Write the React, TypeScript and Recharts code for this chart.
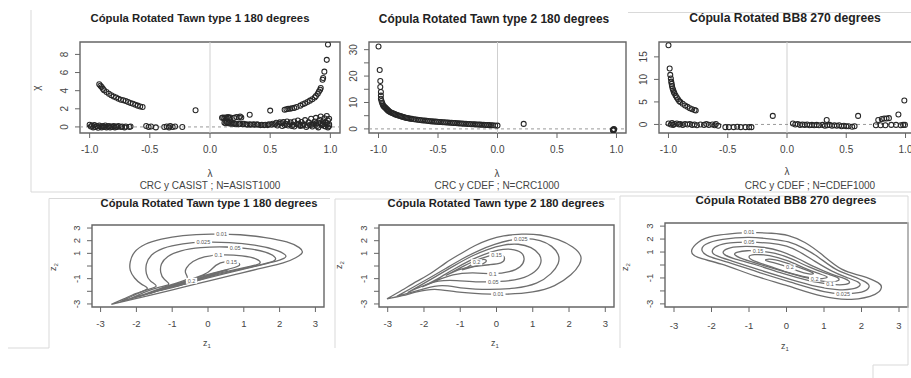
import React from "react";
import {
  ScatterChart,
  Scatter,
  XAxis,
  YAxis,
  ReferenceLine,
  ReferenceArea
} from "recharts";

const FONT = "'Liberation Sans', Arial, Helvetica, sans-serif";

type Pair = [number, number];
type Lab = [number, number, string];

// ---------- top row: chi-plots ----------
const chiXTicks = [-1, -0.5, 0, 0.5, 1];
const chiXDomain: [number, number] = [-1.08, 1.08];

// panel 1: CRC y CASIST
const asistYTicks = [0, 2, 4, 6, 8];
const asistYDomain: [number, number] = [-0.67, 9.37];
const asistUpperLeft: Pair[] = [
  [-0.92, 4.7], [-0.91, 4.55], [-0.9, 4.4], [-0.89, 4.2], [-0.88, 4.05], [-0.86, 3.85],
  [-0.84, 3.65], [-0.82, 3.5], [-0.8, 3.35], [-0.78, 3.25], [-0.76, 3.1], [-0.74, 3.0],
  [-0.72, 2.95], [-0.7, 2.85], [-0.68, 2.75], [-0.66, 2.65], [-0.64, 2.55], [-0.62, 2.45],
  [-0.6, 2.35], [-0.58, 2.25], [-0.56, 2.2]
];
const asistLowLeft: Pair[] = [
  [-1.0, 0.25], [-0.99, 0.05], [-0.98, 0.15], [-0.97, -0.05], [-0.96, 0.2], [-0.95, 0.0],
  [-0.94, 0.1], [-0.93, -0.1], [-0.92, 0.15], [-0.91, 0.05], [-0.9, -0.05], [-0.89, 0.1],
  [-0.88, 0.0], [-0.87, 0.15], [-0.86, -0.05], [-0.85, 0.05], [-0.84, 0.1], [-0.83, -0.05],
  [-0.82, 0.05], [-0.81, 0.0], [-0.8, 0.1], [-0.79, -0.05], [-0.78, 0.05], [-0.77, 0.0],
  [-0.76, 0.1], [-0.74, 0.0], [-0.73, 0.05], [-0.71, -0.05], [-0.7, 0.05], [-0.67, 0.0],
  [-0.66, 0.05], [-0.53, 0.1], [-0.51, 0.0], [-0.49, 0.05], [-0.45, -0.05], [-0.38, 0.0],
  [-0.36, 0.05], [-0.34, -0.05], [-0.33, 0.1], [-0.31, 0.0], [-0.29, 0.05], [-0.23, 0.0]
];
const asistSingles: Pair[] = [[-0.12, 1.83], [0.5, 1.8], [0.33, 1.35]];
const asistMidRight: Pair[] = [
  [0.1, 1.0], [0.11, 1.05], [0.12, 0.95], [0.13, 1.05], [0.14, 1.0], [0.15, 1.1], [0.16, 1.0],
  [0.17, 1.05], [0.2, 1.0], [0.22, 1.1], [0.24, 1.05], [0.25, 1.15], [0.26, 1.05]
];
const asistLowRight: Pair[] = [
  [0.12, 0.45], [0.13, 0.4], [0.14, 0.5], [0.15, 0.4], [0.16, 0.45], [0.17, 0.35], [0.18, 0.45],
  [0.19, 0.35], [0.2, 0.4], [0.21, 0.3], [0.22, 0.35], [0.24, 0.3], [0.25, 0.35], [0.27, 0.3],
  [0.28, 0.35], [0.3, 0.3], [0.31, 0.25], [0.33, 0.3], [0.34, 0.25], [0.36, 0.3], [0.37, 0.25],
  [0.39, 0.3], [0.4, 0.25], [0.42, 0.2], [0.43, 0.25], [0.45, 0.2], [0.46, 0.25], [0.48, 0.2],
  [0.49, 0.3], [0.51, 0.25], [0.52, 0.35], [0.54, 0.3], [0.55, 0.45], [0.57, 0.35], [0.58, 0.5],
  [0.6, 0.4], [0.61, 0.55], [0.63, 0.35], [0.64, 0.6], [0.66, 0.3], [0.67, 0.5], [0.69, 0.25],
  [0.7, 0.6], [0.72, 0.3], [0.73, 0.7], [0.75, 0.2], [0.76, 0.55], [0.78, 0.3], [0.79, 0.75],
  [0.81, 0.15], [0.82, 0.5], [0.84, 0.9], [0.85, 0.25], [0.87, 0.6], [0.88, 1.0], [0.89, 0.1],
  [0.9, 0.45], [0.91, 0.8], [0.92, 1.15], [0.93, 0.2], [0.94, 0.6], [0.95, 0.95], [0.96, 0.05],
  [0.97, 0.4], [0.97, 1.2], [0.98, 0.7], [0.98, -0.05], [0.99, 0.3], [0.99, 0.9], [0.6, 0.1],
  [0.65, 0.15], [0.7, 0.05], [0.75, 0.1], [0.8, 0.0], [0.85, 0.05], [0.9, -0.05], [0.95, 0.1],
  [0.56, 0.15], [0.62, 0.2], [0.68, 0.1], [0.74, 0.35], [0.86, 0.35], [0.94, 0.3],
  [0.77, 0.15], [0.83, 0.2], [0.88, 0.25], [0.92, 0.4], [0.96, 0.5], [0.99, 0.1]
];
const asistUpperRight: Pair[] = [
  [0.62, 1.9], [0.635, 1.95], [0.65, 2.0], [0.665, 2.0], [0.68, 2.05], [0.7, 2.1], [0.72, 2.2],
  [0.75, 2.35], [0.77, 2.5], [0.79, 2.6], [0.81, 2.75], [0.83, 2.9], [0.85, 3.05], [0.87, 3.25],
  [0.88, 3.4], [0.895, 3.65], [0.905, 3.9], [0.915, 4.1], [0.92, 4.3], [0.935, 5.2], [0.94, 5.4],
  [0.95, 6.1], [0.97, 7.4], [0.98, 9.1]
];

// panel 2: CRC y CDEF (Tawn 2)
const crcYTicks = [0, 5, 10, 15, 20, 25, 30];
const crcYShown = [0, 10, 20, 30];
const crcYDomain: [number, number] = [-1.55, 32.9];
const crcSpike: Pair[] = [[-1.0, 31.2], [-0.99, 22.3], [-0.985, 18.1], [-0.985, 15.9], [-0.98, 14.0], [-0.98, 12.6]];
const crcCurve: Pair[] = [
  [-0.98, 11.4], [-0.975, 10.6], [-0.97, 9.9], [-0.965, 9.3], [-0.96, 8.8], [-0.95, 8.3],
  [-0.94, 7.9], [-0.93, 7.4], [-0.92, 7.0], [-0.91, 6.6], [-0.9, 6.3], [-0.88, 5.9],
  [-0.86, 5.5], [-0.84, 5.2], [-0.82, 4.9], [-0.8, 4.6], [-0.78, 4.35], [-0.76, 4.15],
  [-0.74, 3.95], [-0.72, 3.8], [-0.7, 3.65], [-0.67, 3.45], [-0.64, 3.3], [-0.61, 3.15],
  [-0.58, 3.0], [-0.55, 2.85], [-0.52, 2.75], [-0.49, 2.65], [-0.46, 2.55], [-0.43, 2.45],
  [-0.4, 2.35], [-0.37, 2.25], [-0.34, 2.15], [-0.31, 2.05], [-0.28, 1.95], [-0.25, 1.88],
  [-0.22, 1.8], [-0.19, 1.72], [-0.16, 1.65], [-0.13, 1.58], [-0.1, 1.5], [-0.07, 1.43],
  [-0.04, 1.36], [-0.02, 1.3], [0.0, 1.25]
];
const crcCurveDense: Pair[] = [
  [-0.955, 8.6], [-0.945, 8.1], [-0.935, 7.6], [-0.925, 7.2], [-0.915, 6.8], [-0.89, 6.1],
  [-0.87, 5.7], [-0.85, 5.35], [-0.83, 5.05], [-0.81, 4.75], [-0.79, 4.5], [-0.77, 4.25],
  [-0.75, 4.05], [-0.73, 3.88], [-0.685, 3.55], [-0.655, 3.38], [-0.625, 3.22], [-0.595, 3.08],
  [-0.565, 2.92], [-0.535, 2.8], [-0.505, 2.7], [-0.475, 2.6], [-0.445, 2.5], [-0.415, 2.4],
  [-0.385, 2.3], [-0.355, 2.2], [-0.325, 2.1], [-0.295, 2.0], [-0.265, 1.92], [-0.235, 1.84],
  [-0.205, 1.76], [-0.175, 1.68], [-0.145, 1.62], [-0.115, 1.54], [-0.085, 1.47], [-0.055, 1.4]
];
const crcRight: Pair[] = [[0.22, 1.9], [0.97, -0.3], [0.975, -0.5], [0.98, -0.2], [0.972, -0.6], [0.978, 0.0]];

// panel 3: CRC y CDEF (BB8)
const cdefYTicks = [0, 5, 10, 15];
const cdefYDomain: [number, number] = [-1.9, 18.3];
const cdefUpperLeft: Pair[] = [
  [-1.0, 17.6], [-0.99, 12.4], [-0.985, 11.0], [-0.98, 10.2], [-0.977, 9.5], [-0.973, 9.0],
  [-0.97, 8.5], [-0.965, 8.0], [-0.96, 7.6], [-0.955, 7.2], [-0.95, 6.9], [-0.94, 6.4],
  [-0.93, 6.0], [-0.92, 5.6], [-0.91, 5.2], [-0.9, 5.0], [-0.88, 4.6], [-0.86, 4.2],
  [-0.84, 3.9], [-0.82, 3.6], [-0.8, 3.35], [-0.78, 3.2], [-0.77, 3.1]
];
const cdefLowLeft: Pair[] = [
  [-1.0, 0.2], [-0.98, 0.0], [-0.97, 0.3], [-0.96, -0.1], [-0.95, 0.1], [-0.93, 0.2], [-0.91, 0.0],
  [-0.9, 0.1], [-0.88, -0.1], [-0.86, 0.1], [-0.84, 0.0], [-0.82, 0.1], [-0.8, -0.1], [-0.78, 0.0],
  [-0.76, -0.2], [-0.73, 0.0], [-0.7, -0.1], [-0.68, 0.1], [-0.66, -0.1], [-0.63, 0.0], [-0.61, -0.2],
  [-0.6, 0.1], [-0.58, -0.3], [-0.52, -0.6], [-0.49, -0.6], [-0.45, -0.6], [-0.42, -0.5],
  [-0.39, -0.6], [-0.35, -0.6], [-0.32, -0.6], [-0.3, -0.6]
];
const cdefRight: Pair[] = [
  [-0.12, 1.9], [0.05, 0.2], [0.07, 0.0], [0.09, 0.1], [0.11, -0.1], [0.13, 0.0], [0.15, -0.1],
  [0.17, 0.0], [0.19, -0.2], [0.21, -0.1], [0.23, -0.2], [0.25, -0.1], [0.27, -0.2], [0.3, -0.1],
  [0.32, -0.3], [0.34, -0.2], [0.36, -0.1], [0.38, -0.3], [0.4, -0.2], [0.42, -0.3], [0.44, -0.2],
  [0.46, -0.4], [0.48, -0.3], [0.5, -0.4], [0.52, -0.4], [0.55, -0.5], [0.57, -0.4], [0.335, 1.0],
  [0.6, 1.9], [0.75, -0.2], [0.77, 1.0], [0.79, -0.2], [0.8, 1.2], [0.82, 1.3], [0.84, 1.3],
  [0.86, 1.4], [0.83, -0.2], [0.88, -0.1], [0.94, 2.2], [0.92, -0.1], [0.96, -0.2], [0.98, -0.1],
  [0.99, 5.3], [0.995, -0.1]
];

// ---------- bottom row: contour plots ----------
const zTicks = [-3, -2, -1, 0, 1, 2, 3];
const zYShown = [-3, -1, 1, 2, 3];
const zDomain: [number, number] = [-3.24, 3.24];

// panel 4: Tawn type 1
const t1c001: Pair[] = [
  [-2.7, -3.04], [-2.35, -2.6], [-2.0, -2.17], [-1.7, -1.8], [-1.85, -1.45], [-2.05, -0.95],
  [-2.17, -0.35], [-2.17, 0.35], [-2.05, 1.1], [-1.75, 1.72], [-1.3, 2.12], [-0.7, 2.4],
  [0.1, 2.52], [0.9, 2.47], [1.6, 2.25], [2.2, 1.9], [2.55, 1.45], [2.63, 1.05], [2.45, 0.65],
  [2.1, 0.24], [1.5, -0.17], [0.8, -0.65], [0.0, -1.2], [-0.8, -1.75], [-1.6, -2.3],
  [-2.2, -2.7], [-2.7, -3.04]
];
const t1c0025: Pair[] = [
  [-2.45, -2.82], [-2.1, -2.35], [-1.75, -1.92], [-1.45, -1.6], [-1.6, -1.2], [-1.72, -0.6],
  [-1.72, 0.15], [-1.58, 0.85], [-1.25, 1.4], [-0.7, 1.75], [-0.1, 1.88], [0.6, 1.85],
  [1.3, 1.65], [1.85, 1.3], [2.15, 0.9], [2.12, 0.6], [1.8, 0.3], [1.2, -0.1], [0.5, -0.58],
  [-0.3, -1.15], [-1.1, -1.72], [-1.8, -2.3], [-2.45, -2.82]
];
const t1c005: Pair[] = [
  [-2.2, -2.62], [-1.8, -2.1], [-1.4, -1.7], [-1.1, -1.45], [-1.22, -1.05], [-1.32, -0.5],
  [-1.3, 0.15], [-1.12, 0.75], [-0.75, 1.2], [-0.2, 1.45], [0.5, 1.5], [1.1, 1.38], [1.6, 1.1],
  [1.88, 0.65], [1.75, 0.3], [1.3, 0.0], [0.7, -0.38], [0.0, -0.85], [-0.8, -1.45],
  [-1.5, -2.02], [-2.2, -2.62]
];
const t1c01: Pair[] = [
  [-1.95, -2.42], [-1.5, -1.95], [-1.0, -1.45], [-0.6, -1.05], [-0.62, -0.6], [-0.6, -0.15],
  [-0.42, 0.35], [-0.1, 0.72], [0.4, 0.88], [0.95, 0.8], [1.35, 0.55], [1.45, 0.22],
  [1.2, -0.02], [0.6, -0.38], [-0.1, -0.85], [-0.8, -1.4], [-1.4, -1.92], [-1.95, -2.42]
];
const t1c015: Pair[] = [
  [-1.65, -2.2], [-1.0, -1.55], [-0.4, -0.98], [0.0, -0.5], [0.22, 0.05], [0.5, 0.35],
  [0.8, 0.28], [0.86, 0.02], [0.5, -0.3], [-0.1, -0.75], [-0.9, -1.5], [-1.65, -2.2]
];
const t1c02: Pair[] = [
  [-1.35, -1.95], [-0.8, -1.45], [-0.2, -0.92], [0.55, -0.3], [0.0, -0.72], [-0.7, -1.45], [-1.35, -1.95]
];
const t1c025: Pair[] = [[-0.9, -1.6], [-0.4, -1.15], [0.25, -0.6], [-0.3, -1.15], [-0.9, -1.6]];
const t1Labels: Lab[] = [
  [0.38, 2.5, "0.01"], [-0.13, 1.87, "0.025"], [0.76, 1.46, "0.05"], [0.29, 0.86, "0.1"],
  [0.66, 0.33, "0.15"], [-0.46, -1.17, "0.2"]
];

// panel 5: Tawn type 2
const t2c001: Pair[] = [
  [-3.02, -2.6], [-2.6, -1.9], [-2.2, -1.22], [-1.8, -0.55], [-1.4, 0.25], [-1.0, 0.95],
  [-0.6, 1.6], [-0.2, 2.08], [0.2, 2.38], [0.7, 2.52], [1.2, 2.45], [1.7, 2.08], [2.1, 1.5],
  [2.32, 0.8], [2.28, 0.1], [2.05, -0.7], [1.6, -1.55], [1.0, -2.05], [0.3, -2.22],
  [-0.4, -2.2], [-1.1, -2.05], [-1.7, -1.85], [-2.2, -2.05], [-2.6, -2.35], [-3.02, -2.6]
];
const t2c0025: Pair[] = [
  [-2.75, -2.4], [-2.3, -1.68], [-1.85, -0.95], [-1.4, -0.2], [-0.95, 0.55], [-0.5, 1.2],
  [-0.05, 1.7], [0.4, 2.05], [0.8, 2.17], [1.2, 2.0], [1.52, 1.55], [1.7, 0.9], [1.7, 0.2],
  [1.5, -0.6], [1.1, -1.35], [0.5, -1.75], [-0.2, -1.85], [-0.9, -1.75], [-1.5, -1.55],
  [-2.0, -1.8], [-2.4, -2.12], [-2.75, -2.4]
];
const t2c005: Pair[] = [
  [-2.45, -2.1], [-2.05, -1.45], [-1.6, -0.7], [-1.15, 0.05], [-0.7, 0.75], [-0.25, 1.3],
  [0.2, 1.65], [0.6, 1.72], [0.95, 1.45], [1.18, 0.9], [1.22, 0.25], [1.05, -0.45],
  [0.65, -1.0], [0.1, -1.22], [-0.5, -1.25], [-1.1, -1.15], [-1.6, -1.2], [-2.05, -1.6], [-2.45, -2.1]
];
const t2c01: Pair[] = [
  [-2.05, -1.65], [-1.65, -1.05], [-1.2, -0.3], [-0.75, 0.4], [-0.35, 0.9], [0.05, 1.25],
  [0.4, 1.32], [0.68, 1.05], [0.76, 0.5], [0.65, -0.05], [0.35, -0.45], [-0.1, -0.6],
  [-0.65, -0.55], [-1.2, -0.7], [-1.65, -1.15], [-2.05, -1.65]
];
const t2c015: Pair[] = [
  [-1.4, -0.75], [-1.0, -0.15], [-0.6, 0.4], [-0.2, 0.8], [0.1, 0.92], [0.22, 0.6],
  [0.12, 0.25], [-0.2, 0.1], [-0.65, -0.05], [-1.05, -0.3], [-1.4, -0.75]
];
const t2c02: Pair[] = [[-0.95, -0.3], [-0.65, 0.15], [-0.4, 0.5], [-0.28, 0.42], [-0.45, 0.1], [-0.95, -0.3]];
const t2Labels: Lab[] = [
  [0.67, 2.16, "0.025"], [0.05, -2.22, "0.01"], [-0.09, -1.24, "0.05"], [-0.1, -0.6, "0.1"],
  [0.0, 0.88, "0.15"], [-0.55, 0.3, "0.2"]
];

// panel 6: BB8
const bbc001: Pair[] = [
  [-1.0, 2.52], [-0.4, 2.45], [0.05, 2.27], [0.49, 1.74], [0.93, 0.84], [1.47, -0.32],
  [2.0, -0.84], [2.44, -1.36], [2.53, -1.75], [2.36, -2.26], [1.73, -2.65], [0.93, -2.39],
  [0.04, -1.61], [-0.84, -0.84], [-1.73, 0.06], [-2.36, 0.58], [-2.53, 1.1], [-2.36, 1.74],
  [-1.91, 2.26], [-1.0, 2.52]
];
const bbc0025: Pair[] = [
  [1.51, -2.24], [1.0, -2.05], [0.2, -1.4], [-0.7, -0.6], [-1.55, 0.2], [-2.05, 0.65],
  [-2.25, 1.1], [-2.15, 1.6], [-1.7, 1.98], [-1.0, 2.13], [-0.4, 2.0], [0.05, 1.78],
  [0.45, 1.3], [0.85, 0.6], [1.3, -0.3], [1.75, -0.85], [2.1, -1.3], [2.2, -1.7], [2.0, -2.1], [1.51, -2.24]
];
const bbc005: Pair[] = [
  [-1.0, 1.76], [-0.45, 1.68], [0.0, 1.45], [0.35, 1.0], [0.75, 0.3], [1.2, -0.45], [1.6, -0.95],
  [1.9, -1.3], [1.95, -1.6], [1.75, -1.85], [1.35, -1.9], [0.8, -1.65], [0.1, -1.1], [-0.7, -0.4],
  [-1.45, 0.3], [-1.85, 0.7], [-1.98, 1.05], [-1.85, 1.45], [-1.5, 1.7], [-1.0, 1.76]
];
const bbc01: Pair[] = [
  [1.16, -1.5], [0.6, -1.2], [-0.1, -0.65], [-0.8, 0.0], [-1.4, 0.5], [-1.65, 0.8], [-1.68, 1.05],
  [-1.5, 1.32], [-1.1, 1.43], [-0.6, 1.35], [-0.15, 1.05], [0.3, 0.5], [0.75, -0.15], [1.2, -0.7],
  [1.55, -1.05], [1.68, -1.35], [1.5, -1.52], [1.16, -1.5]
];
const bbc015: Pair[] = [
  [-0.76, 1.08], [-0.3, 0.9], [0.15, 0.45], [0.6, -0.15], [1.05, -0.65], [1.35, -0.95], [1.38, -1.2],
  [1.15, -1.3], [0.7, -1.1], [0.05, -0.6], [-0.6, -0.05], [-1.15, 0.45], [-1.38, 0.8], [-1.3, 1.0],
  [-1.05, 1.1], [-0.76, 1.08]
];
const bbc02: Pair[] = [
  [0.75, -1.05], [0.2, -0.7], [-0.4, -0.15], [-0.85, 0.3], [-1.0, 0.62], [-0.85, 0.8], [-0.45, 0.72],
  [0.0, 0.35], [0.45, -0.2], [0.85, -0.65], [1.08, -0.92], [0.95, -1.05], [0.75, -1.05]
];
const bbc025: Pair[] = [
  [0.09, -0.19], [-0.3, 0.15], [-0.55, 0.35], [-0.45, 0.45], [-0.1, 0.25], [0.35, -0.2],
  [0.7, -0.6], [0.6, -0.68], [0.3, -0.45], [0.09, -0.19]
];
const bbLabels: Lab[] = [
  [-1.0, 2.52, "0.01"], [-1.0, 1.76, "0.05"], [-0.76, 1.08, "0.15"], [0.09, -0.19, "0.2"],
  [0.75, -1.05, "0.2"], [1.16, -1.5, "0.1"], [1.51, -2.24, "0.025"]
];

const toXY = (a: Pair[]) => a.map(([x, y]) => ({ x, y }));
const toLab = (a: Lab[]) => a.map(([x, y, t]) => ({ x, y, t }));

const fmt1 = (v: number) => v.toFixed(1);
const fmt0 = (v: number) => String(v);

const ring = (p: any) => (
  <circle cx={p.cx} cy={p.cy} r={2.5} fill="none" stroke="#262626" strokeWidth={1.05} />
);
const noDot = () => <g />;
const contourLabel = (p: any) => {
  const t = p.payload.t as string;
  const w = t.length * 3.1 + 2;
  return (
    <g>
      <rect x={p.cx - w / 2} y={p.cy - 3} width={w} height={6} fill="#fff" />
      <text x={p.cx} y={p.cy + 2} textAnchor="middle" fontSize={5.5} fill="#555" fontFamily={FONT}>
        {t}
      </text>
    </g>
  );
};

const rotTick = (shown: number[] | undefined, fs: number) => (p: any) => {
  const v = p.payload.value;
  if (shown && !shown.includes(v)) return <g />;
  const x = p.x - 5;
  const y = p.y;
  return (
    <text x={x} y={y} transform={`rotate(-90 ${x} ${y})`} textAnchor="middle" fontSize={fs} fill="#444" fontFamily={FONT}>
      {v}
    </text>
  );
};

const YW = 40;
const MT = 4;
const MR = 4;
const XH = 30;

function Panel(props: {
  box: [number, number, number, number];
  xDomain: [number, number];
  yDomain: [number, number];
  xTicks: number[];
  yTicks: number[];
  yShown?: number[];
  xFormat: (v: number) => string;
  xm: number;
  fs: number;
  children: React.ReactNode;
}) {
  const { box, xDomain, yDomain, xTicks, yTicks, yShown, xFormat, xm, fs, children } = props;
  const [l, t, r, b] = box;
  const w = YW + (r - l) + MR;
  const h = MT + (b - t) + XH;
  return (
    <div style={{ position: "absolute", left: l - YW, top: t - MT }}>
      <ScatterChart width={w} height={h} margin={{ top: MT, right: MR, bottom: 0, left: 0 }}>
        <XAxis
          type="number"
          dataKey="x"
          domain={xDomain}
          ticks={xTicks}
          interval={0}
          allowDataOverflow
          axisLine={false}
          tickLine={{ stroke: "#666" }}
          tickSize={5}
          tickMargin={xm}
          height={XH}
          tickFormatter={xFormat}
          tick={{ fontSize: fs, fill: "#444", fontFamily: FONT }}
        />
        <YAxis
          type="number"
          dataKey="y"
          domain={yDomain}
          ticks={yTicks}
          interval={0}
          allowDataOverflow
          axisLine={false}
          tickLine={{ stroke: "#666" }}
          tickSize={5}
          width={YW}
          tick={rotTick(yShown, fs)}
        />
        <ReferenceArea
          x1={xDomain[0]}
          x2={xDomain[1]}
          y1={yDomain[0]}
          y2={yDomain[1]}
          fill="none"
          stroke="#666"
          strokeWidth={1.4}
          ifOverflow="visible"
        />
        {children}
      </ScatterChart>
    </div>
  );
}

const contourLine = { stroke: "#6e6e6e", strokeWidth: 1.3 };

function Contours({ sets, labels }: { sets: Pair[][]; labels: Lab[] }) {
  return (
    <>
      {sets.map((c, i) => (
        <Scatter
          key={i}
          data={toXY(c)}
          line={contourLine}
          lineJointType="natural"
          shape={noDot}
          isAnimationActive={false}
        />
      ))}
      <Scatter data={toLab(labels)} shape={contourLabel} isAnimationActive={false} />
    </>
  );
}

const titleStyle = { fontFamily: FONT, fontWeight: 700, fill: "#222" } as const;
const textStyle = { fontFamily: FONT, fill: "#444" } as const;
const frame = "#d9d9d9";

export default function App() {
  return (
    <div style={{ position: "absolute", left: 0, top: 0, width: 911, height: 378, overflow: "hidden", background: "#fff" }}>
      <Panel box={[80, 42, 340, 133]} xDomain={chiXDomain} yDomain={asistYDomain} xTicks={chiXTicks} yTicks={asistYTicks} xFormat={fmt1} xm={8} fs={10}>
        <ReferenceLine x={0} stroke="#cfcfcf" />
        <ReferenceLine y={0} stroke="#999" strokeDasharray="3 3" />
        <Scatter data={toXY(asistUpperLeft)} shape={ring} isAnimationActive={false} />
        <Scatter data={toXY(asistLowLeft)} shape={ring} isAnimationActive={false} />
        <Scatter data={toXY(asistSingles)} shape={ring} isAnimationActive={false} />
        <Scatter data={toXY(asistMidRight)} shape={ring} isAnimationActive={false} />
        <Scatter data={toXY(asistLowRight)} shape={ring} isAnimationActive={false} />
        <Scatter data={toXY(asistUpperRight)} shape={ring} isAnimationActive={false} />
      </Panel>
      <Panel box={[369, 42, 626, 133]} xDomain={chiXDomain} yDomain={crcYDomain} xTicks={chiXTicks} yTicks={crcYTicks} yShown={crcYShown} xFormat={fmt1} xm={8} fs={10}>
        <ReferenceLine x={0} stroke="#cfcfcf" />
        <ReferenceLine y={0} stroke="#999" strokeDasharray="3 3" />
        <Scatter data={toXY(crcSpike)} shape={ring} isAnimationActive={false} />
        <Scatter data={toXY(crcCurve)} shape={ring} isAnimationActive={false} />
        <Scatter data={toXY(crcCurveDense)} shape={ring} isAnimationActive={false} />
        <Scatter data={toXY(crcRight)} shape={ring} isAnimationActive={false} />
      </Panel>
      <Panel box={[659, 42, 915, 133]} xDomain={chiXDomain} yDomain={cdefYDomain} xTicks={chiXTicks} yTicks={cdefYTicks} xFormat={fmt1} xm={8} fs={10}>
        <ReferenceLine x={0} stroke="#cfcfcf" />
        <ReferenceLine y={0} stroke="#999" strokeDasharray="3 3" />
        <Scatter data={toXY(cdefUpperLeft)} shape={ring} isAnimationActive={false} />
        <Scatter data={toXY(cdefLowLeft)} shape={ring} isAnimationActive={false} />
        <Scatter data={toXY(cdefRight)} shape={ring} isAnimationActive={false} />
      </Panel>

      <Panel box={[92, 225, 324, 307]} xDomain={zDomain} yDomain={zDomain} xTicks={zTicks} yTicks={zTicks} yShown={zYShown} xFormat={fmt0} xm={8} fs={9.5}>
        <Contours sets={[t1c001, t1c0025, t1c005, t1c01, t1c015, t1c02, t1c025]} labels={t1Labels} />
      </Panel>
      <Panel box={[379, 225, 614, 307]} xDomain={zDomain} yDomain={zDomain} xTicks={zTicks} yTicks={zTicks} yShown={zYShown} xFormat={fmt0} xm={8} fs={9.5}>
        <Contours sets={[t2c001, t2c0025, t2c005, t2c01, t2c015, t2c02]} labels={t2Labels} />
      </Panel>
      <Panel box={[665, 223, 908, 307]} xDomain={zDomain} yDomain={zDomain} xTicks={zTicks} yTicks={zTicks} yShown={zYShown} xFormat={fmt0} xm={10} fs={9.5}>
        <Contours sets={[bbc001, bbc0025, bbc005, bbc01, bbc015, bbc02, bbc025]} labels={bbLabels} />
      </Panel>

      <svg width={911} height={378} style={{ position: "absolute", left: 0, top: 0, pointerEvents: "none" }}>
        <g stroke={frame} strokeWidth={1} fill="none">
          <path d="M31 10 V192 H911" />
          <path d="M628 12.5 H911" />
          <path d="M8 348 H49 V198.5 H330" />
          <path d="M335 348 V199 H615" />
          <path d="M620 348 V196 H908 V365 H873 V378" />
        </g>
        <text x={200} y={22} textAnchor="middle" fontSize={11.3} {...titleStyle}>Cópula Rotated Tawn type 1 180 degrees</text>
        <text x={494} y={23} textAnchor="middle" fontSize={11.9} {...titleStyle}>Cópula Rotated Tawn type 2 180 degrees</text>
        <text x={785} y={22} textAnchor="middle" fontSize={12.2} {...titleStyle}>Cópula Rotated BB8 270 degrees</text>
        <text x={209} y={206.5} textAnchor="middle" fontSize={11.2} {...titleStyle}>Cópula Rotated Tawn type 1 180 degrees</text>
        <text x={496} y={207} textAnchor="middle" fontSize={11.2} {...titleStyle}>Cópula Rotated Tawn type 2 180 degrees</text>
        <text x={786} y={204} textAnchor="middle" fontSize={11.5} {...titleStyle}>Cópula Rotated BB8 270 degrees</text>

        <text x={210} y={177} textAnchor="middle" fontSize={10} {...textStyle}>λ</text>
        <text x={497} y={177} textAnchor="middle" fontSize={10} {...textStyle}>λ</text>
        <text x={787} y={175} textAnchor="middle" fontSize={10} {...textStyle}>λ</text>
        <text x={210} y={189} textAnchor="middle" fontSize={10} {...textStyle}>CRC y CASIST ; N=ASIST1000</text>
        <text x={497} y={189} textAnchor="middle" fontSize={10} {...textStyle}>CRC y CDEF ; N=CRC1000</text>
        <text x={810} y={189} textAnchor="middle" fontSize={10} {...textStyle}>CRC y CDEF ; N=CDEF1000</text>
        <text x={40} y={88} textAnchor="middle" fontSize={10} transform="rotate(-90 40 88)" {...textStyle}>χ</text>

        <text x={207} y={346} textAnchor="middle" fontSize={9} {...textStyle}>z<tspan fontSize={6} dy={2}>1</tspan></text>
        <text x={495} y={346} textAnchor="middle" fontSize={9} {...textStyle}>z<tspan fontSize={6} dy={2}>1</tspan></text>
        <text x={785} y={349} textAnchor="middle" fontSize={9} {...textStyle}>z<tspan fontSize={6} dy={2}>1</tspan></text>
        <text x={56} y={267} textAnchor="middle" fontSize={9} transform="rotate(-90 56 267)" {...textStyle}>z<tspan fontSize={6} dy={2}>2</tspan></text>
        <text x={342} y={265} textAnchor="middle" fontSize={9} transform="rotate(-90 342 265)" {...textStyle}>z<tspan fontSize={6} dy={2}>2</tspan></text>
        <text x={628} y={267} textAnchor="middle" fontSize={9} transform="rotate(-90 628 267)" {...textStyle}>z<tspan fontSize={6} dy={2}>2</tspan></text>
      </svg>
    </div>
  );
}
